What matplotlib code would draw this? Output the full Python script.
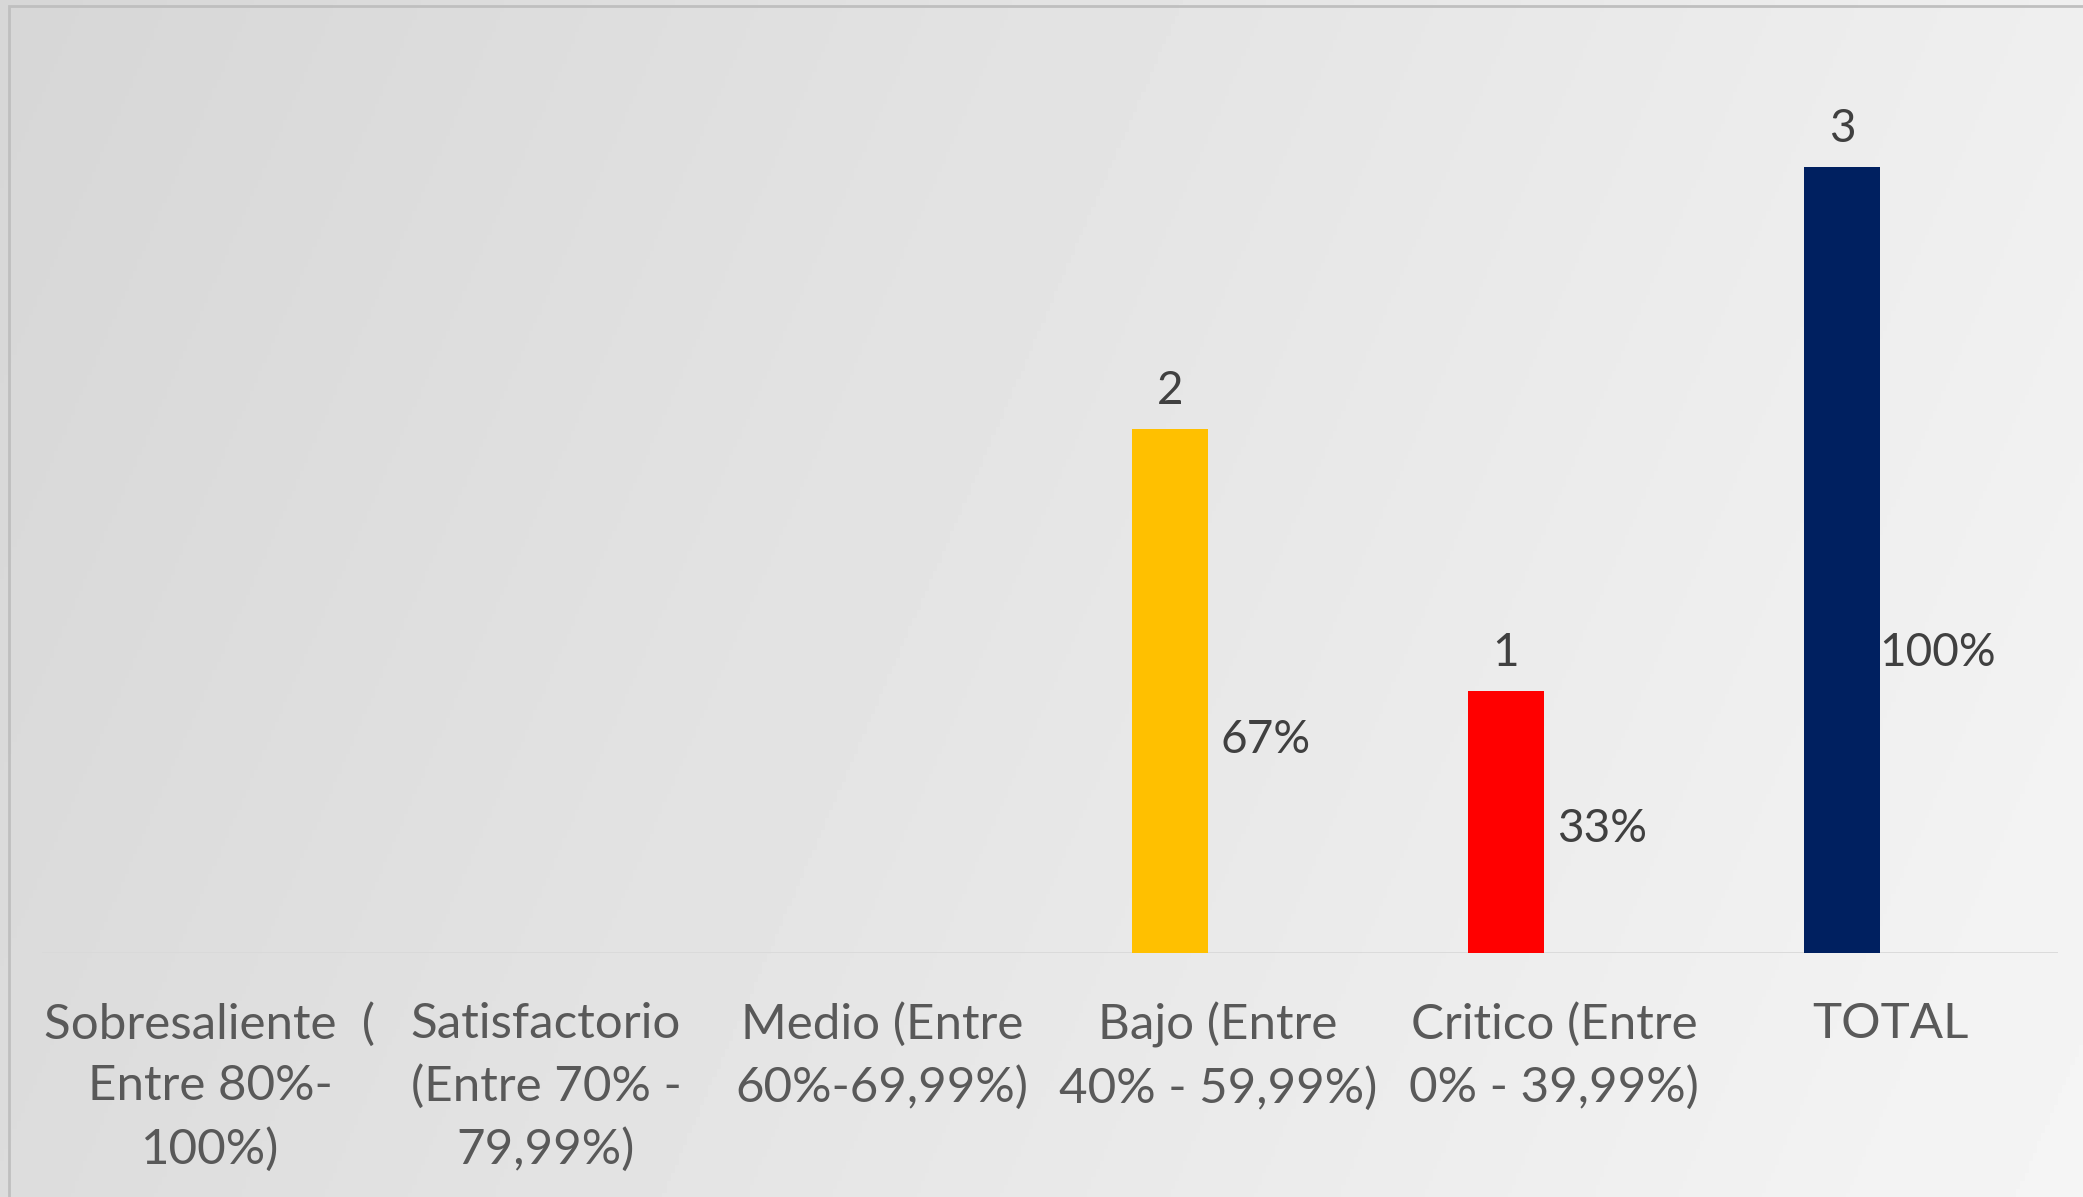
import numpy as np
import matplotlib.pyplot as plt
from matplotlib.patches import Rectangle

plt.rcParams['font.family'] = ['Lato', 'DejaVu Sans']

categories = ['Sobresaliente  (\nEntre 80%-\n100%)',
              'Satisfactorio\n(Entre 70% -\n79,99%)',
              'Medio (Entre\n60%-69,99%)',
              'Bajo (Entre\n40% - 59,99%)',
              'Critico (Entre\n0% - 39,99%)',
              'TOTAL']
counts = [0, 0, 0, 2, 1, 3]
shares = [0, 0, 0, 0.67, 0.33, 1.00]
bar_colors = ['#4472C4', '#ED7D31', '#A5A5A5', '#FFC000', '#FF0000', '#002060']

W, H = 2083, 1197
fig = plt.figure(figsize=(W / 100, H / 100), dpi=100)

# background gradient, light grey going lighter to the lower right
bg = fig.add_axes([0, 0, 1, 1], zorder=-10)
yy, xx = np.mgrid[0:H:300j, 0:W:500j]
t = (0.92 * xx + 0.40 * yy) / (0.92 * W + 0.40 * H)
bg.imshow(0.84 + 0.12 * t, cmap='gray', vmin=0, vmax=1, aspect='auto')
bg.axis('off')

# chart frame (only top and left edges fall inside the picture)
fig.add_artist(Rectangle((9 / W, -0.1), 1.2, 1.1 - 6 / H, transform=fig.transFigure,
                         fill=False, edgecolor='#bfbfbf', lw=2))

ax = fig.add_axes([42 / W, (H - 953) / H, 2016 / W, 917 / H])
ax.patch.set_visible(False)
x = np.arange(len(categories))
width = 76 / 336
off = 48 / 336

b1 = ax.bar(x - off, counts, width, color=bar_colors, zorder=3)
b2 = ax.bar(x + off, shares, width, color='none', zorder=3)
ax.bar_label(b1, labels=[str(v) if v else '' for v in counts], padding=12,
             color='#404040', fontsize=33)
ax.bar_label(b2, labels=[f'{round(s * 100)}%' if s else '' for s in shares], padding=12,
             color='#404040', fontsize=33)

ax.set_xlim(-0.5, 5.5)
ax.set_ylim(0, 3.5)
ax.axhline(0, color='#d9d9d9', lw=2, zorder=2)
for s in ax.spines.values():
    s.set_visible(False)
ax.set_yticks([])
ax.set_xticks(x, categories)
ax.tick_params(axis='x', length=0, pad=35, labelsize=35.5, labelcolor='#595959')
for lbl in ax.get_xticklabels():
    lbl.set_linespacing(1.5)

fig.savefig('out.png', dpi=100)
